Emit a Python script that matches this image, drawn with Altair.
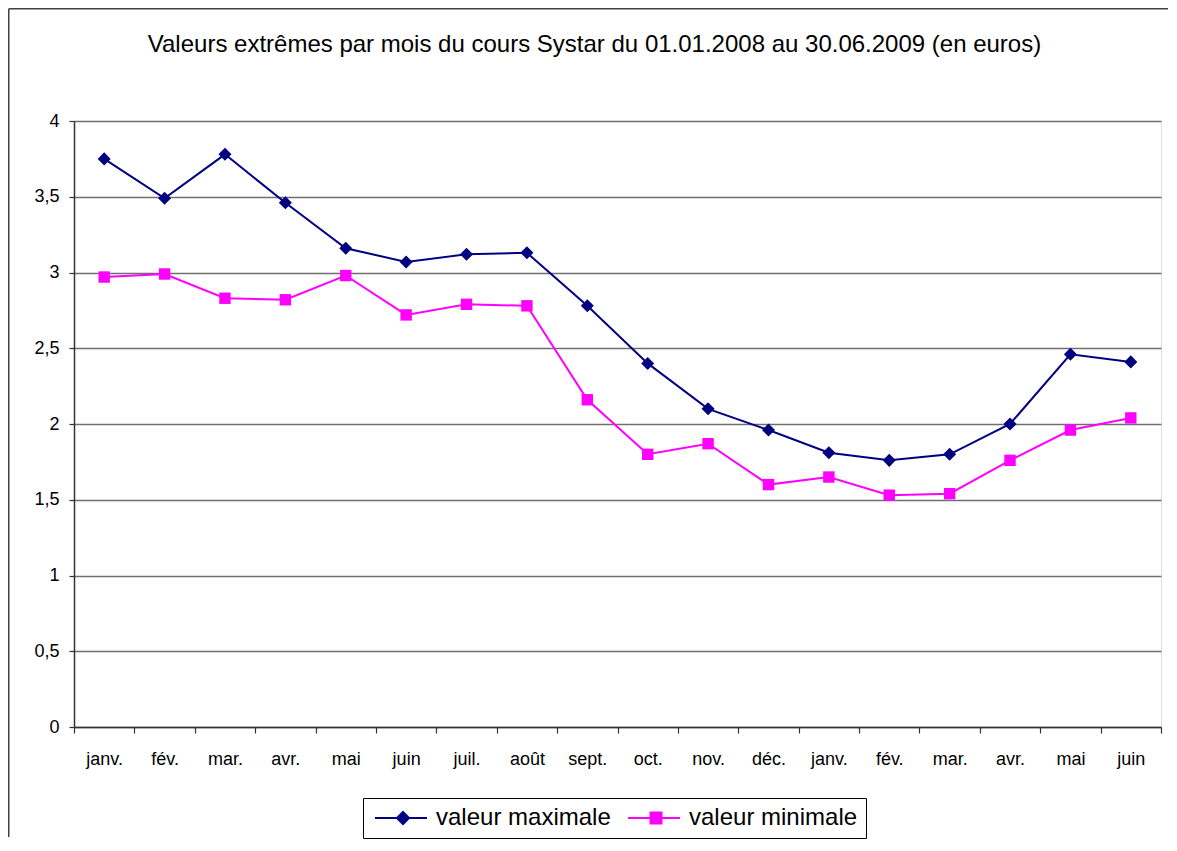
import altair as alt
import pandas as pd

months = ["janv. 2008", "fév. 2008", "mar. 2008", "avr. 2008", "mai 2008", "juin 2008",
          "juil. 2008", "août 2008", "sept. 2008", "oct. 2008", "nov. 2008", "déc. 2008",
          "janv. 2009", "fév. 2009", "mar. 2009", "avr. 2009", "mai 2009", "juin 2009"]
max_vals = [3.75, 3.49, 3.78, 3.46, 3.16, 3.07, 3.12, 3.13, 2.78, 2.40, 2.10, 1.96,
            1.81, 1.76, 1.80, 2.00, 2.46, 2.41]
min_vals = [2.97, 2.99, 2.83, 2.82, 2.98, 2.72, 2.79, 2.78, 2.16, 1.80, 1.87, 1.60,
            1.65, 1.53, 1.54, 1.76, 1.96, 2.04]
series = ["valeur maximale", "valeur minimale"]
colors = ["#000080", "#FF00FF"]
y_ticks = [0, 0.5, 1, 1.5, 2, 2.5, 3, 3.5, 4]
title_text = "Valeurs extrêmes par mois du cours Systar du 01.01.2008 au 30.06.2009 (en euros)"

rows = []
for m, v in zip(months, max_vals):
    rows.append({"mois": m, "serie": series[0], "forme": "max", "valeur": v})
for m, v in zip(months, min_vals):
    rows.append({"mois": m, "serie": series[1], "forme": "min", "valeur": v})
df = pd.DataFrame(rows)

FONT = "Liberation Sans"

max_path = "M-1.6,0L8.8,0M2.8,0L4,-1.2L5.2,0L4,1.2Z"
min_path = "M-1.6,0L8.8,0M2.9,-1.1L5.1,-1.1L5.1,1.1L2.9,1.1Z"
is_max = "datum.value == 'valeur maximale'"

x_enc = alt.X("mois:N", sort=months,
              scale=alt.Scale(type="band", domain=months, paddingInner=0, paddingOuter=0),
              axis=alt.Axis(title=None,
                            labelExpr="datum.value ? split(datum.value, ' ')[0] : ''",
                            tickBand="extent", labelAngle=0, labelFontSize=18,
                            labelFont=FONT, labelColor="black", labelPadding=17,
                            tickSize=6, tickColor="#333", domainColor="#333",
                            domainWidth=1.5, tickWidth=1.2))
y_enc = alt.Y("valeur:Q", scale=alt.Scale(domain=[0, 4], nice=False),
              axis=alt.Axis(title=None, values=y_ticks,
                            labelExpr="replace(toString(datum.value), '.', ',')",
                            labelFontSize=18, labelFont=FONT, labelColor="black",
                            labelPadding=10, tickSize=5, tickColor="#333",
                            domainColor="#333", domainWidth=1.5, tickWidth=1.2,
                            grid=True, gridColor="#6f6f6f", gridWidth=1.5))

color_enc = alt.Color("serie:N", scale=alt.Scale(domain=series, range=colors),
                      legend=alt.Legend(
                          title=None, orient="none", direction="horizontal",
                          legendX=289, legendY=677,
                          symbolSize=100, symbolStrokeWidth=2,
                          symbolType=alt.ExprRef(expr=is_max + " ? '" + max_path + "' : '" + min_path + "'"),
                          symbolFillColor=alt.ExprRef(expr=is_max + " ? '#000080' : '#FF00FF'"),
                          symbolStrokeColor=alt.ExprRef(expr=is_max + " ? '#000080' : '#FF00FF'"),
                          symbolOpacity=1,
                          labelFontSize=24, labelFont=FONT, labelColor="black",
                          labelLimit=400, labelOffset=41, columnPadding=13,
                          strokeColor="black", fillColor="white", padding=8))

frame_data = alt.Data(values=[{"a": 1}])
border_top = alt.Chart(frame_data).mark_rule(stroke="#404040", strokeWidth=1.5).encode(
    x=alt.value(-65.25), x2=alt.value(1094), y=alt.value(-112.25))
border_left = alt.Chart(frame_data).mark_rule(stroke="#404040", strokeWidth=1.5).encode(
    x=alt.value(-65.25), y=alt.value(-112.25), y2=alt.value(716))

lines = alt.Chart(df).mark_line(strokeWidth=2).encode(x=x_enc, y=y_enc, color=color_enc)
points = alt.Chart(df).mark_point(filled=True, opacity=1).encode(
    x=x_enc, y=y_enc, color=color_enc,
    shape=alt.Shape("forme:N", scale=alt.Scale(domain=["max", "min"], range=["diamond", "square"]), legend=None),
    size=alt.Size("forme:N", scale=alt.Scale(domain=["max", "min"], range=[170, 130]), legend=None),
)

chart = alt.layer(border_top, border_left, lines, points).properties(
    width=1087, height=606,
    title=alt.TitleParams(title_text, fontSize=24, font=FONT, fontWeight="normal",
                          color="black", anchor="middle", dx=-23, offset=0, dy=49),
    autosize=alt.AutoSizeParams(type="none"),
    padding={"left": 66, "top": 113, "right": 8, "bottom": 112},
).configure_view(
    fill="#E1E1E1", stroke="#808080", strokeWidth=2
).configure(background="white")

chart.save("out.html", embed_options={"renderer": "svg", "actions": False})
